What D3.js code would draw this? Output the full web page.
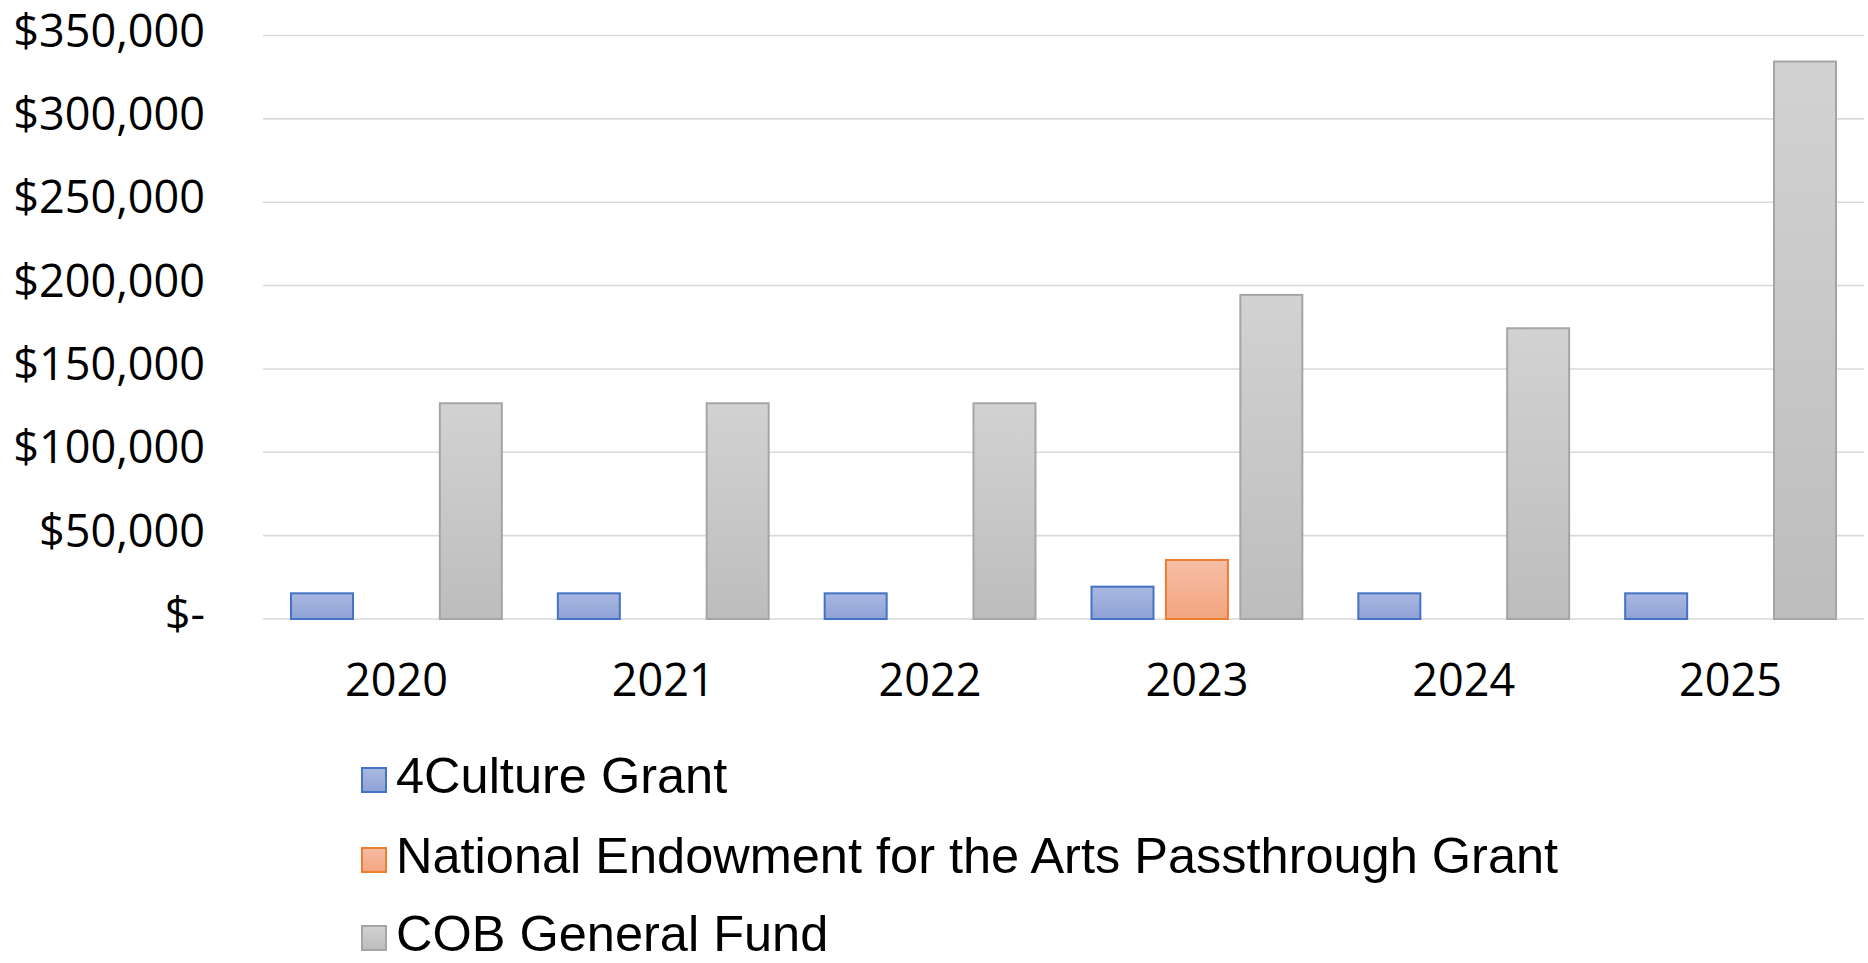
<!DOCTYPE html>
<html>
<head>
<meta charset="utf-8">
<script src="https://cdn.jsdelivr.net/npm/d3@7"></script>
<style>
  body { margin: 0; background: #fff; }
  .tick-label { font-family: "Open Sans", sans-serif; font-size: 45px; fill: #000; }
  .legend-label { font-family: "Liberation Sans", Arial, sans-serif; font-size: 50.5px; fill: #000; }
</style>
</head>
<body>
<svg width="1868" height="963"></svg>
<script>
// chart data
var years = ['2020', '2021', '2022', '2023', '2024', '2025'];
var seriesNames = ['4Culture Grant', 'National Endowment for the Arts Passthrough Grant', 'COB General Fund'];
var cultureGrant = [16000, 16000, 16000, 20000, 16000, 16000];
var neaGrant = [0, 0, 0, 36000, 0, 0];
var generalFund = [130000, 130000, 130000, 195000, 175000, 335000];
var yTicks = [0, 50000, 100000, 150000, 200000, 250000, 300000, 350000];

var seriesValues = [cultureGrant, neaGrant, generalFund];

// colours for each series: border, gradient top, gradient bottom
var colors = [
    { stroke: '#4472c4', top: '#a9b8e0', bottom: '#8fa2d6' },
    { stroke: '#ed7d31', top: '#f6bea6', bottom: '#f3a47f' },
    { stroke: '#a5a5a5', top: '#d2d2d2', bottom: '#bdbdbd' }
];

var svg = d3.select('svg');

var plot = { left: 263, right: 1864, top: 35.5, bottom: 619 };

var xScale = d3.scaleBand()
    .domain(years)
    .range([plot.left, plot.right])
    .paddingInner(0)
    .paddingOuter(0);

var groupPad = 27;
var x1 = d3.scaleBand()
    .domain(d3.range(seriesNames.length))
    .range([groupPad, xScale.bandwidth() - groupPad])
    .paddingInner(0.14)
    .paddingOuter(0);

var yScale = d3.scaleLinear()
    .domain([0, 350000])
    .range([plot.bottom, plot.top]);

// gradients
var defs = svg.append('defs');
colors.forEach(function(c, i) {
    var g = defs.append('linearGradient')
        .attr('id', 'grad' + i)
        .attr('x1', 0).attr('y1', 0)
        .attr('x2', 0).attr('y2', 1);
    g.append('stop').attr('offset', '0%').attr('stop-color', c.top);
    g.append('stop').attr('offset', '100%').attr('stop-color', c.bottom);
});

// gridlines
svg.append('g')
    .selectAll('line')
    .data(yTicks)
    .enter().append('line')
    .attr('x1', plot.left)
    .attr('x2', plot.right)
    .attr('y1', function(d) { return yScale(d); })
    .attr('y2', function(d) { return yScale(d); })
    .attr('stroke', '#d9d9d9')
    .attr('stroke-width', 1.6);

// y axis labels
var fmt = d3.format(',');
svg.append('g')
    .selectAll('text')
    .data(yTicks)
    .enter().append('text')
    .attr('class', 'tick-label')
    .attr('x', 205)
    .attr('y', function(d) { return yScale(d) + 11; })
    .attr('text-anchor', 'end')
    .text(function(d) { return d === 0 ? '$-' : '$' + fmt(d); });

// x axis labels
svg.append('g')
    .selectAll('text')
    .data(years)
    .enter().append('text')
    .attr('class', 'tick-label')
    .attr('x', function(d) { return xScale(d) + xScale.bandwidth() / 2; })
    .attr('y', 696)
    .attr('text-anchor', 'middle')
    .text(function(d) { return d; });

// bars
var groups = svg.append('g')
    .selectAll('g')
    .data(years)
    .enter().append('g')
    .attr('transform', function(d) { return 'translate(' + xScale(d) + ',0)'; });

groups.selectAll('rect')
    .data(function(d, i) {
        return seriesValues.map(function(vals, s) { return { s: s, value: vals[i] }; })
            .filter(function(e) { return e.value > 0; });
    })
    .enter().append('rect')
    .attr('x', function(d) { return x1(d.s) + 1; })
    .attr('width', x1.bandwidth() - 2)
    .attr('y', function(d) { return yScale(d.value) + 1; })
    .attr('height', function(d) { return yScale(0) - yScale(d.value) - 1; })
    .attr('fill', function(d) { return 'url(#grad' + d.s + ')'; })
    .attr('stroke', function(d) { return colors[d.s].stroke; })
    .attr('stroke-width', 2);

// legend
var legendY = [793, 873, 951];
var legend = svg.append('g')
    .selectAll('g')
    .data(seriesNames)
    .enter().append('g')
    .attr('transform', function(d, i) { return 'translate(0,' + legendY[i] + ')'; });

legend.append('rect')
    .attr('x', 362)
    .attr('y', -25)
    .attr('width', 24)
    .attr('height', 24)
    .attr('fill', function(d, i) { return 'url(#grad' + i + ')'; })
    .attr('stroke', function(d, i) { return colors[i].stroke; })
    .attr('stroke-width', 2);

legend.append('text')
    .attr('class', 'legend-label')
    .attr('x', 396)
    .attr('y', 0)
    .text(function(d) { return d; });
</script>
</body>
</html>
